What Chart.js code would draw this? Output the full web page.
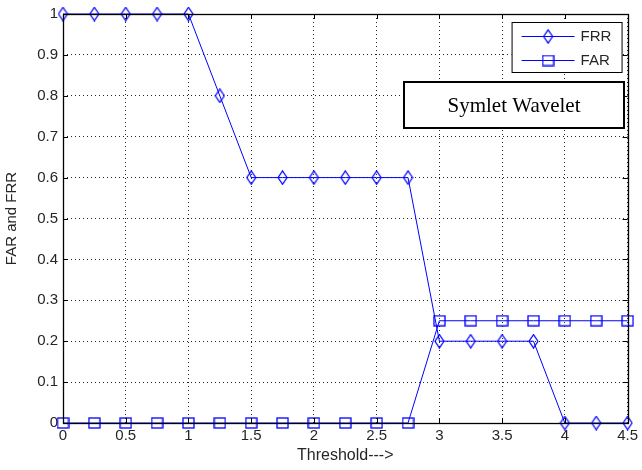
<!DOCTYPE html>
<html>
<head>
<meta charset="utf-8">
<script src="https://cdn.jsdelivr.net/npm/chart.js@4.4.1/dist/chart.umd.min.js"></script>
<style>
  body { margin: 0; background: #fff; }
</style>
</head>
<body>
<canvas id="chart" width="642" height="470"></canvas>
<script>
// data
const thresholds = [0, 0.25, 0.5, 0.75, 1, 1.25, 1.5, 1.75, 2, 2.25, 2.5, 2.75, 3, 3.25, 3.5, 3.75, 4, 4.25, 4.5];
const frr = [1, 1, 1, 1, 1, 0.8, 0.6, 0.6, 0.6, 0.6, 0.6, 0.6, 0.2, 0.2, 0.2, 0.2, 0, 0, 0];
const far = [0, 0, 0, 0, 0, 0, 0, 0, 0, 0, 0, 0, 0.25, 0.25, 0.25, 0.25, 0.25, 0.25, 0.25];
const seriesNames = ['FRR', 'FAR'];
const boxText = 'Symlet Wavelet';

const BLUE = '#0000ff';
const TXT = '#262626';
const FONT = '"Liberation Sans", Arial, sans-serif';

// MATLAB-ish markers as little canvases
function diamondMarker() {
  const c = document.createElement('canvas');
  c.width = 11; c.height = 15;
  const ctx = c.getContext('2d');
  ctx.strokeStyle = BLUE;
  ctx.lineWidth = 1.2;
  ctx.beginPath();
  ctx.moveTo(5.5, 0.8);
  ctx.lineTo(10, 7.5);
  ctx.lineTo(5.5, 14.2);
  ctx.lineTo(1, 7.5);
  ctx.closePath();
  ctx.stroke();
  return c;
}

function squareMarker() {
  const c = document.createElement('canvas');
  c.width = 13; c.height = 12;
  const ctx = c.getContext('2d');
  ctx.strokeStyle = BLUE;
  ctx.lineWidth = 1.3;
  ctx.strokeRect(1, 1, 11, 10);
  return c;
}

const markers = [diamondMarker(), squareMarker()];

const toPoints = (ys) => thresholds.map((x, i) => ({ x: x, y: ys[i] }));
const shortNum = (v) => String(+Number(v).toFixed(2));

// box around the axes, inward ticks, legend and the text box
const matlabFrame = {
  id: 'matlabFrame',
  afterDatasetsDraw(chart) {
    const { ctx, chartArea: a, scales } = chart;
    ctx.save();
    ctx.strokeStyle = '#000';
    ctx.lineWidth = 1;
    ctx.beginPath();
    scales.x.ticks.forEach((t) => {
      const px = Math.round(scales.x.getPixelForValue(t.value)) + 0.5;
      ctx.moveTo(px, a.bottom); ctx.lineTo(px, a.bottom - 5);
      ctx.moveTo(px, a.top); ctx.lineTo(px, a.top + 5);
    });
    scales.y.ticks.forEach((t) => {
      const py = Math.round(scales.y.getPixelForValue(t.value)) + 0.5;
      ctx.moveTo(a.left, py); ctx.lineTo(a.left + 5, py);
      ctx.moveTo(a.right, py); ctx.lineTo(a.right - 5, py);
    });
    ctx.stroke();
    ctx.lineWidth = 1.3;
    ctx.strokeRect(Math.round(a.left) + 0.5, Math.round(a.top) + 0.5,
      Math.round(a.right - a.left), Math.round(a.bottom - a.top));
    ctx.restore();
  },
  afterDraw(chart) {
    const { ctx, chartArea: a } = chart;
    ctx.save();

    // legend
    const lx = a.right - 116, ly = a.top + 8, lw = 110, lh = 50;
    ctx.fillStyle = '#fff';
    ctx.fillRect(lx, ly, lw, lh);
    ctx.strokeStyle = '#000';
    ctx.lineWidth = 1;
    ctx.strokeRect(lx + 0.5, ly + 0.5, lw, lh);
    ctx.font = '15px ' + FONT;
    ctx.textBaseline = 'middle';
    chart.data.datasets.forEach((ds, i) => {
      const y = ly + 14 + i * 24;
      ctx.strokeStyle = BLUE;
      ctx.lineWidth = 1;
      ctx.beginPath();
      ctx.moveTo(lx + 10, y + 0.5);
      ctx.lineTo(lx + 63, y + 0.5);
      ctx.stroke();
      const m = markers[i];
      ctx.drawImage(m, lx + 36.5 - m.width / 2, y - m.height / 2 + 0.5);
      ctx.fillStyle = TXT;
      ctx.fillText(ds.label, lx + 69, y + 1);
    });

    // annotation box
    const bx = a.left + 340, by = a.top + 67, bw = 220, bh = 46;
    ctx.fillStyle = '#fff';
    ctx.fillRect(bx, by, bw, bh);
    ctx.strokeStyle = '#000';
    ctx.lineWidth = 2;
    ctx.strokeRect(bx + 1, by + 1, bw, bh);
    ctx.fillStyle = '#000';
    ctx.font = '21px "Liberation Serif", "Times New Roman", serif';
    ctx.textAlign = 'center';
    ctx.fillText(boxText, bx + bw / 2 + 1, by + bh / 2 + 2);
    ctx.restore();
  }
};

new Chart(document.getElementById('chart'), {
  type: 'line',
  data: {
    datasets: [
      {
        label: seriesNames[0],
        data: toPoints(frr),
        borderColor: BLUE,
        borderWidth: 1,
        pointStyle: markers[0],
        pointRadius: 6,
        clip: false,
        tension: 0
      },
      {
        label: seriesNames[1],
        data: toPoints(far),
        borderColor: BLUE,
        borderWidth: 1,
        pointStyle: markers[1],
        pointRadius: 6,
        clip: false,
        tension: 0
      }
    ]
  },
  options: {
    responsive: false,
    animation: false,
    layout: { padding: { top: 13, right: 12, left: 0, bottom: 0 } },
    plugins: {
      legend: { display: false },
      tooltip: { enabled: false }
    },
    scales: {
      x: {
        type: 'linear',
        min: 0,
        max: 4.5,
        ticks: { stepSize: 0.5, color: TXT, font: { family: FONT, size: 15 }, padding: 4, maxRotation: 0, callback: shortNum },
        grid: { color: 'rgba(0,0,0,0.85)', drawTicks: false },
        border: { display: false, dash: [1, 3] },
        title: { display: true, text: 'Threshold--->', color: TXT, font: { family: FONT, size: 16 }, padding: { top: 0, bottom: 5 } },
        afterFit: (s) => { s.height = 47; }
      },
      y: {
        min: 0,
        max: 1,
        ticks: { stepSize: 0.1, color: TXT, font: { family: FONT, size: 15 }, padding: 5, callback: shortNum },
        grid: { color: 'rgba(0,0,0,0.85)', drawTicks: false },
        border: { display: false, dash: [1, 3] },
        title: { display: true, text: 'FAR and FRR', color: TXT, font: { family: FONT, size: 15 }, padding: { top: 3, bottom: 0 } },
        afterFit: (s) => { s.width = 63; }
      }
    }
  },
  plugins: [matlabFrame]
});
</script>
</body>
</html>
